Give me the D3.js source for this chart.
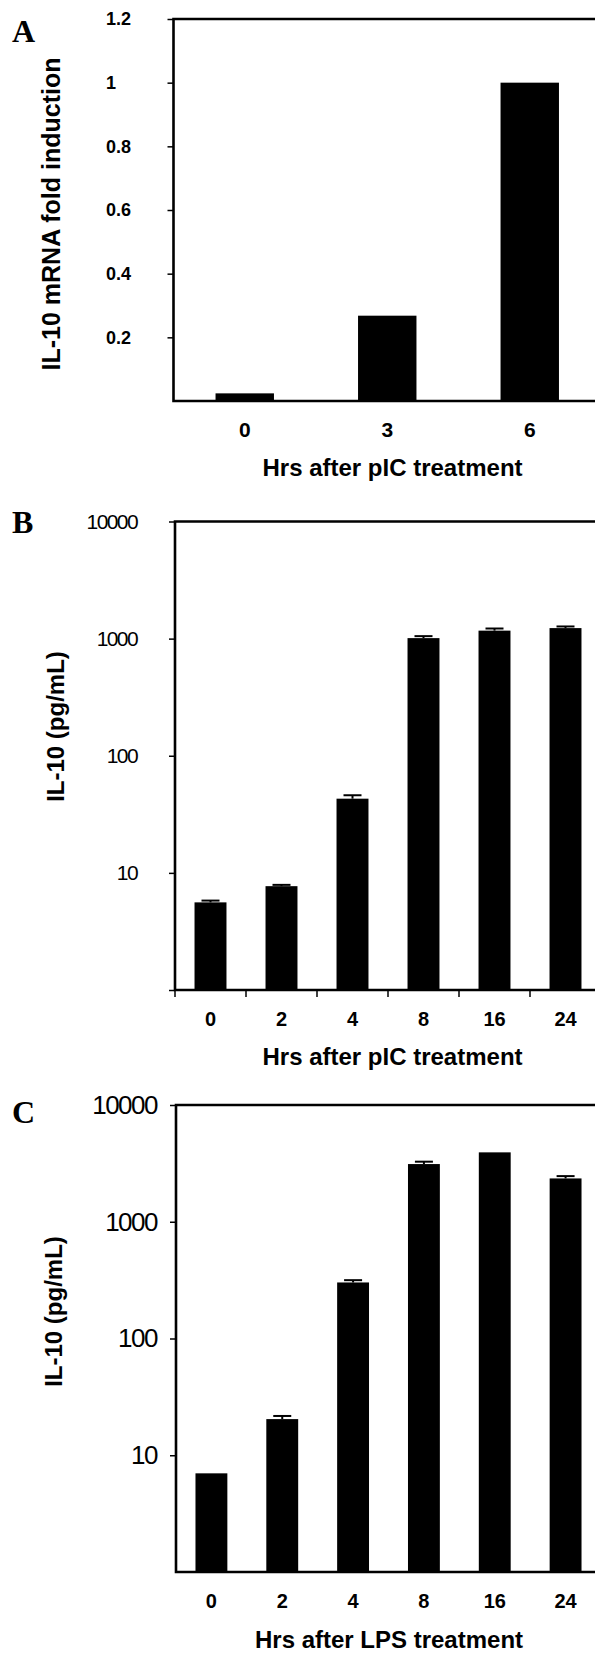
<!DOCTYPE html>
<html lang="en">
<head>
	<meta charset="UTF-8">
	<title>IL-10 induction</title>
	<style>
		* {
			margin: 0;
			padding: 0;
		}
		body {
			background: #fff;
		}
		.svg {
			display: block;
		}
		text {
			font-family: "Liberation Sans", Arial, sans-serif;
			fill: #000;
		}
		.bold {
			font-weight: bold;
		}
		.panel-letter {
			font-family: "Liberation Serif", "Times New Roman", serif;
			font-weight: bold;
			font-size: 32px;
		}
	</style>
</head>
<body>
	<script src="https://cdn.jsdelivr.net/npm/d3@7"></script>
	<script>
		// panel A: mRNA fold induction
		var catsA = ['0', '3', '6'];
		var valsA = [0.024, 0.268, 1.0];
		var ticksA = [0.2, 0.4, 0.6, 0.8, 1, 1.2];

		// panel B: IL-10 protein after pIC
		var catsB = ['0', '2', '4', '8', '16', '24'];
		var valsB = [5.6, 7.7, 43, 1010, 1170, 1230];
		var errB = [0.2, 0.2, 3, 40, 50, 40];

		// panel C: IL-10 protein after LPS
		var catsC = ['0', '2', '4', '8', '16', '24'];
		var valsC = [7.0, 20.4, 302, 3120, 3930, 2350];
		var errC = [0, 1.3, 14, 150, 0, 110];

		var logTicks = [1, 10, 100, 1000, 10000];

		var width = 595, height = 1655;

		var svg = d3.select('body').append('svg').attr('width', width).attr('height', height).classed('svg', true);

		// 画边框（右边在图外）
		function frame(box) {
			svg.append('path')
				.attr('d', 'M' + box.right + ',' + box.top + 'H' + box.left + 'V' + box.bottom + 'H' + box.right)
				.attr('fill', 'none')
				.attr('stroke', '#000')
				.attr('stroke-width', 2.6);
		}

		function bars(x, y, cats, vals, base) {
			svg.selectAll(null)
				.data(vals)
				.enter()
				.append('rect')
				.attr('x', function (d, i) {return x(cats[i])})
				.attr('y', function (d) {return y(d)})
				.attr('width', x.bandwidth())
				.attr('height', function (d) {return base - y(d)})
				.attr('fill', '#000');
		}

		function errors(x, y, cats, vals, errs) {
			var g = svg.append('g').attr('stroke', '#000').attr('stroke-width', 2);
			vals.forEach(function (v, i) {
				if (!errs[i]) return;
				var cx = x(cats[i]) + x.bandwidth() / 2;
				g.append('line').attr('x1', cx).attr('x2', cx).attr('y1', y(v)).attr('y2', y(v + errs[i]));
				g.append('line').attr('x1', cx - 9).attr('x2', cx + 9).attr('y1', y(v + errs[i])).attr('y2', y(v + errs[i]));
			});
		}

		function catLabels(x, cats, baseline, size) {
			svg.selectAll(null)
				.data(cats)
				.enter()
				.append('text')
				.classed('bold', true)
				.attr('x', function (d) {return x(d) + x.bandwidth() / 2})
				.attr('y', baseline)
				.attr('text-anchor', 'middle')
				.style('font-size', size + 'px')
				.text(function (d) {return d});
		}

		function yTitle(txt, cx, cy, size) {
			svg.append('text')
				.classed('bold', true)
				.attr('transform', 'translate(' + cx + ',' + cy + ') rotate(-90)')
				.attr('text-anchor', 'middle')
				.attr('dominant-baseline', 'central')
				.style('font-size', size + 'px')
				.text(txt);
		}

		function xTitle(txt, cx, baseline) {
			svg.append('text')
				.classed('bold', true)
				.attr('x', cx)
				.attr('y', baseline)
				.attr('text-anchor', 'middle')
				.style('font-size', '24px')
				.text(txt);
		}

		function letter(txt, baseline) {
			svg.append('text').classed('panel-letter', true).attr('x', 12).attr('y', baseline).text(txt);
		}

		// ---------- A ----------
		var boxA = {left: 173.5, top: 19, bottom: 401, right: 601};
		var xA = d3.scaleBand().domain(catsA).range([boxA.left, boxA.right]).paddingInner(0.59).paddingOuter(0.295);
		var yA = d3.scaleLinear().domain([0, 1.2]).range([boxA.bottom, boxA.top]);

		bars(xA, yA, catsA, valsA, boxA.bottom);

		var axA = svg.append('g')
			.attr('transform', 'translate(' + boxA.left + ',0)')
			.call(d3.axisLeft(yA).tickValues(ticksA).tickSize(6).tickFormat(function (d) {return String(d)}));
		axA.select('.domain').remove();
		axA.selectAll('line').attr('stroke-width', 1.5);
		axA.selectAll('text')
			.attr('x', 106 - boxA.left)
			.attr('text-anchor', 'start')
			.style('font-family', '"Liberation Sans", Arial, sans-serif')
			.style('font-weight', 'bold')
			.style('font-size', '18px');

		frame(boxA);
		catLabels(xA, catsA, 436.5, 21);
		yTitle('IL-10 mRNA fold induction', 51, 214, 25);
		xTitle('Hrs after pIC treatment', 392.5, 475.5);
		letter('A', 41.5);

		// ---------- B ----------
		var boxB = {left: 175, top: 521.5, bottom: 990, right: 601};
		var xB = d3.scaleBand().domain(catsB).range([boxB.left, boxB.right]).paddingInner(0.55).paddingOuter(0.275);
		var yB = d3.scaleLog().domain([1, 10000]).range([boxB.bottom, boxB.top]);

		bars(xB, yB, catsB, valsB, boxB.bottom);
		errors(xB, yB, catsB, valsB, errB);

		var axB = svg.append('g')
			.attr('transform', 'translate(' + boxB.left + ',0)')
			.call(d3.axisLeft(yB).tickValues(logTicks).tickSize(6).tickFormat(function (d) {return d === 1 ? '' : String(d)}));
		axB.select('.domain').remove();
		axB.selectAll('line').attr('stroke-width', 1.5);
		axB.selectAll('text')
			.attr('x', 137 - boxB.left)
			.style('font-family', '"Liberation Sans", Arial, sans-serif')
			.style('font-size', '21px')
			.style('letter-spacing', '-1.6px');

		// x轴刻度在两类之间
		svg.append('g')
			.selectAll('line')
			.data(catsB)
			.enter()
			.append('line')
			.attr('x1', function (d) {return xB(d) - (xB.step() - xB.bandwidth()) / 2})
			.attr('x2', function (d) {return xB(d) - (xB.step() - xB.bandwidth()) / 2})
			.attr('y1', boxB.bottom)
			.attr('y2', boxB.bottom + 7)
			.attr('stroke', '#000')
			.attr('stroke-width', 1.5);

		frame(boxB);
		catLabels(xB, catsB, 1026, 20);
		yTitle('IL-10 (pg/mL)', 55, 726.5, 24);
		xTitle('Hrs after pIC treatment', 392.5, 1064.5);
		letter('B', 532.5);

		// ---------- C ----------
		var boxC = {left: 176, top: 1105, bottom: 1572, right: 601};
		var xC = d3.scaleBand().domain(catsC).range([boxC.left, boxC.right]).paddingInner(0.55).paddingOuter(0.275);
		var yC = d3.scaleLog().domain([1, 10000]).range([boxC.bottom, boxC.top]);

		bars(xC, yC, catsC, valsC, boxC.bottom);
		errors(xC, yC, catsC, valsC, errC);

		var axC = svg.append('g')
			.attr('transform', 'translate(' + boxC.left + ',0)')
			.call(d3.axisLeft(yC).tickValues(logTicks.slice(1)).tickSize(6).tickFormat(function (d) {return String(d)}));
		axC.select('.domain').remove();
		axC.selectAll('line').attr('stroke-width', 1.5);
		axC.selectAll('text')
			.attr('x', 157 - boxC.left)
			.style('font-family', '"Liberation Sans", Arial, sans-serif')
			.style('font-size', '26px')
			.style('letter-spacing', '-1.5px');

		frame(boxC);
		catLabels(xC, catsC, 1608, 20);
		yTitle('IL-10 (pg/mL)', 53, 1311.5, 24);
		xTitle('Hrs after LPS treatment', 389, 1648);
		letter('C', 1123);
	</script>
</body>
</html>
